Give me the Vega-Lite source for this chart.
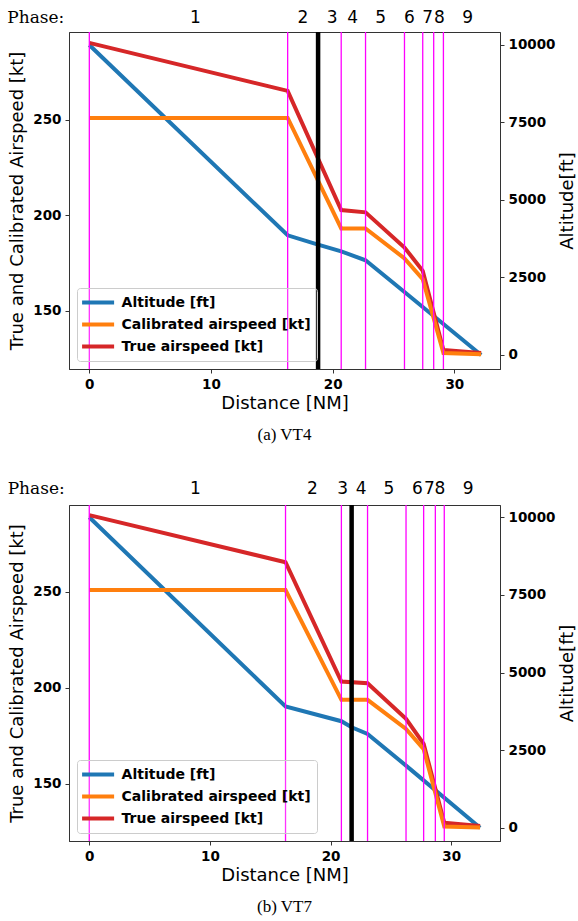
{
  "$schema": "https://vega.github.io/schema/vega-lite/v6.json",
  "padding": {"left": 6, "top": 8, "right": 0, "bottom": 5},
  "background": "white",
  "config": {
    "view": {"stroke": "#333", "strokeWidth": 1},
    "axis": {"grid": false, "labelFont": "DejaVu Sans", "labelFontWeight": "bold", "labelFontSize": 13.5, "labelColor": "#000", "titleFont": "DejaVu Sans", "titleFontWeight": "normal", "titleFontSize": 18, "titleColor": "#000", "tickColor": "#333", "domainColor": "#333", "tickSize": 4, "labelPadding": 4},
    "legend": {"orient": "bottom-left", "offset": 8, "labelFont": "DejaVu Sans", "labelFontWeight": "bold", "labelFontSize": 14, "labelColor": "#000", "labelLimit": 400, "symbolType": "M-2.5,0L2.5,0", "symbolStrokeWidth": 4, "symbolSize": 164, "symbolOffset": 6.6, "strokeColor": "#ccc", "fillColor": "rgba(255,255,255,0.2)", "padding": 6, "cornerRadius": 3, "rowPadding": 5, "labelOffset": 15},
    "title": {"font": "Liberation Serif", "fontSize": 17, "fontWeight": "normal", "color": "#000"}
  },
  "datasets": {
    "vt4_speed": [
      {"d": 0, "kt": 290.3, "series": "True airspeed [kt]"},
      {"d": 16.3, "kt": 265.2, "series": "True airspeed [kt]"},
      {"d": 20.7, "kt": 202.8, "series": "True airspeed [kt]"},
      {"d": 22.7, "kt": 201.6, "series": "True airspeed [kt]"},
      {"d": 25.9, "kt": 183.2, "series": "True airspeed [kt]"},
      {"d": 27.4, "kt": 171.0, "series": "True airspeed [kt]"},
      {"d": 29.1, "kt": 129.5, "series": "True airspeed [kt]"},
      {"d": 32.2, "kt": 128.0, "series": "True airspeed [kt]"},
      {"d": 0, "kt": 251, "series": "Calibrated airspeed [kt]"},
      {"d": 16.3, "kt": 251, "series": "Calibrated airspeed [kt]"},
      {"d": 20.7, "kt": 193.2, "series": "Calibrated airspeed [kt]"},
      {"d": 22.7, "kt": 193.2, "series": "Calibrated airspeed [kt]"},
      {"d": 25.9, "kt": 177.5, "series": "Calibrated airspeed [kt]"},
      {"d": 27.4, "kt": 166.6, "series": "Calibrated airspeed [kt]"},
      {"d": 29.1, "kt": 128.0, "series": "Calibrated airspeed [kt]"},
      {"d": 32.2, "kt": 127.3, "series": "Calibrated airspeed [kt]"}
    ],
    "vt4_alt": [
      {"d": 0, "ft": 10000, "series": "Altitude [ft]"},
      {"d": 16.3, "ft": 3861, "series": "Altitude [ft]"},
      {"d": 18.8, "ft": 3558, "series": "Altitude [ft]"},
      {"d": 20.7, "ft": 3345, "series": "Altitude [ft]"},
      {"d": 22.7, "ft": 3055, "series": "Altitude [ft]"},
      {"d": 25.9, "ft": 2032, "series": "Altitude [ft]"},
      {"d": 32.2, "ft": 0, "series": "Altitude [ft]"}
    ],
    "vt4_bounds": [
      {"d": 0, "kind": "phase"}, {"d": 16.3, "kind": "phase"}, {"d": 20.7, "kind": "phase"}, {"d": 22.7, "kind": "phase"},
      {"d": 25.9, "kind": "phase"}, {"d": 27.4, "kind": "phase"}, {"d": 28.3, "kind": "phase"}, {"d": 29.1, "kind": "phase"},
      {"d": 18.8, "kind": "now"}
    ],
    "vt4_labels": [
      {"d": 8.72, "phase": "1"}, {"d": 17.56, "phase": "2"}, {"d": 19.95, "phase": "3"}, {"d": 21.65, "phase": "4"},
      {"d": 23.95, "phase": "5"}, {"d": 26.3, "phase": "6"}, {"d": 27.8, "phase": "7"}, {"d": 28.77, "phase": "8"}, {"d": 31.1, "phase": "9"}
    ],
    "vt7_speed": [
      {"d": 0, "kt": 290.0, "series": "True airspeed [kt]"},
      {"d": 16.27, "kt": 265.5, "series": "True airspeed [kt]"},
      {"d": 20.9, "kt": 203.3, "series": "True airspeed [kt]"},
      {"d": 23.07, "kt": 202.4, "series": "True airspeed [kt]"},
      {"d": 26.26, "kt": 183.9, "series": "True airspeed [kt]"},
      {"d": 27.72, "kt": 170.8, "series": "True airspeed [kt]"},
      {"d": 29.43, "kt": 129.7, "series": "True airspeed [kt]"},
      {"d": 32.4, "kt": 128.0, "series": "True airspeed [kt]"},
      {"d": 0, "kt": 251, "series": "Calibrated airspeed [kt]"},
      {"d": 16.27, "kt": 251, "series": "Calibrated airspeed [kt]"},
      {"d": 20.9, "kt": 193.75, "series": "Calibrated airspeed [kt]"},
      {"d": 23.07, "kt": 193.75, "series": "Calibrated airspeed [kt]"},
      {"d": 26.26, "kt": 178.6, "series": "Calibrated airspeed [kt]"},
      {"d": 27.72, "kt": 168.0, "series": "Calibrated airspeed [kt]"},
      {"d": 29.43, "kt": 127.8, "series": "Calibrated airspeed [kt]"},
      {"d": 32.4, "kt": 127.3, "series": "Calibrated airspeed [kt]"}
    ],
    "vt7_alt": [
      {"d": 0, "ft": 10000, "series": "Altitude [ft]"},
      {"d": 16.27, "ft": 3905, "series": "Altitude [ft]"},
      {"d": 20.9, "ft": 3430, "series": "Altitude [ft]"},
      {"d": 21.75, "ft": 3237, "series": "Altitude [ft]"},
      {"d": 23.07, "ft": 3023, "series": "Altitude [ft]"},
      {"d": 26.26, "ft": 2000, "series": "Altitude [ft]"},
      {"d": 32.4, "ft": 0, "series": "Altitude [ft]"}
    ],
    "vt7_bounds": [
      {"d": 0, "kind": "phase"}, {"d": 16.27, "kind": "phase"}, {"d": 20.9, "kind": "phase"}, {"d": 23.07, "kind": "phase"},
      {"d": 26.26, "kind": "phase"}, {"d": 27.72, "kind": "phase"}, {"d": 28.69, "kind": "phase"}, {"d": 29.43, "kind": "phase"},
      {"d": 21.75, "kind": "now"}
    ],
    "vt7_labels": [
      {"d": 8.8, "phase": "1"}, {"d": 18.5, "phase": "2"}, {"d": 21.0, "phase": "3"}, {"d": 22.55, "phase": "4"},
      {"d": 24.85, "phase": "5"}, {"d": 27.2, "phase": "6"}, {"d": 28.2, "phase": "7"}, {"d": 29.06, "phase": "8"}, {"d": 31.4, "phase": "9"}
    ]
  },
  "spacing": 36,
  "resolve": {"legend": {"color": "independent"}},
  "vconcat": [
    {
      "width": 431, "height": 337,
      "title": {"text": "(a) VT4", "orient": "bottom", "offset": 14},
      "resolve": {"scale": {"y": "independent"}},
      "layer": [
        {
          "data": {"name": "vt4_alt"},
          "mark": {"type": "line", "strokeWidth": 4},
          "encoding": {
            "x": {"field": "d", "type": "quantitative", "scale": {"domain": [-1.67, 33.75], "nice": false, "zero": false}, "axis": {"values": [0, 10, 20, 30], "title": "Distance [NM]", "titlePadding": 4}},
            "y": {"field": "ft", "type": "quantitative", "scale": {"domain": [-452, 10419], "nice": false, "zero": false}, "axis": {"orient": "right", "values": [0, 2500, 5000, 7500, 10000], "title": "Altitude[ft]", "titleAngle": 270, "titleBaseline": "top", "titlePadding": 4, "format": "d"}},
            "color": {"field": "series", "type": "nominal", "scale": {"domain": ["Altitude [ft]", "Calibrated airspeed [kt]", "True airspeed [kt]"], "range": ["#1f77b4", "#ff7f0e", "#d62728"]}, "legend": {"title": null}}
          }
        },
        {
          "layer": [
            {
              "data": {"name": "vt4_speed"},
              "mark": {"type": "line", "strokeWidth": 4},
              "encoding": {
                "x": {"field": "d", "type": "quantitative"},
                "y": {"field": "kt", "type": "quantitative", "scale": {"domain": [119.6, 296], "nice": false, "zero": false}, "axis": {"orient": "left", "values": [150, 200, 250], "title": "True and Calibrated Airspeed [kt]", "titlePadding": 6}},
                "color": {"field": "series", "type": "nominal"}
              }
            },
            {
              "data": {"name": "vt4_bounds"},
              "transform": [{"filter": "datum.kind === 'phase'"}],
              "mark": {"type": "rule", "color": "#ff00ff", "strokeWidth": 1.3},
              "encoding": {"x": {"field": "d", "type": "quantitative"}}
            },
            {
              "data": {"name": "vt4_bounds"},
              "transform": [{"filter": "datum.kind === 'now'"}],
              "mark": {"type": "rule", "color": "#000", "strokeWidth": 4.5},
              "encoding": {"x": {"field": "d", "type": "quantitative"}}
            },
            {
              "data": {"name": "vt4_labels"},
              "mark": {"type": "text", "font": "DejaVu Sans", "fontSize": 17, "color": "#000", "baseline": "middle"},
              "encoding": {"x": {"field": "d", "type": "quantitative"}, "y": {"datum": 303.3, "type": "quantitative"}, "text": {"field": "phase"}}
            },
            {
              "data": {"values": [{"t": "Phase:"}]},
              "mark": {"type": "text", "font": "DejaVu Serif", "fontSize": 17, "color": "#000", "baseline": "middle"},
              "encoding": {"x": {"datum": -4.4, "type": "quantitative"}, "y": {"datum": 303.3, "type": "quantitative"}, "text": {"field": "t"}}
            }
          ]
        }
      ]
    },
    {
      "width": 431, "height": 336,
      "title": {"text": "(b) VT7", "orient": "bottom", "offset": 14},
      "resolve": {"scale": {"y": "independent"}},
      "layer": [
        {
          "data": {"name": "vt7_alt"},
          "mark": {"type": "line", "strokeWidth": 4},
          "encoding": {
            "x": {"field": "d", "type": "quantitative", "scale": {"domain": [-1.68, 34.05], "nice": false, "zero": false}, "axis": {"values": [0, 10, 20, 30], "title": "Distance [NM]", "titlePadding": 4}},
            "y": {"field": "ft", "type": "quantitative", "scale": {"domain": [-428, 10396], "nice": false, "zero": false}, "axis": {"orient": "right", "values": [0, 2500, 5000, 7500, 10000], "title": "Altitude[ft]", "titleAngle": 270, "titleBaseline": "top", "titlePadding": 4, "format": "d"}},
            "color": {"field": "series", "type": "nominal", "scale": {"domain": ["Altitude [ft]", "Calibrated airspeed [kt]", "True airspeed [kt]"], "range": ["#1f77b4", "#ff7f0e", "#d62728"]}, "legend": {"title": null}}
          }
        },
        {
          "layer": [
            {
              "data": {"name": "vt7_speed"},
              "mark": {"type": "line", "strokeWidth": 4},
              "encoding": {
                "x": {"field": "d", "type": "quantitative"},
                "y": {"field": "kt", "type": "quantitative", "scale": {"domain": [120.2, 295.3], "nice": false, "zero": false}, "axis": {"orient": "left", "values": [150, 200, 250], "title": "True and Calibrated Airspeed [kt]", "titlePadding": 6}},
                "color": {"field": "series", "type": "nominal"}
              }
            },
            {
              "data": {"name": "vt7_bounds"},
              "transform": [{"filter": "datum.kind === 'phase'"}],
              "mark": {"type": "rule", "color": "#ff00ff", "strokeWidth": 1.3},
              "encoding": {"x": {"field": "d", "type": "quantitative"}}
            },
            {
              "data": {"name": "vt7_bounds"},
              "transform": [{"filter": "datum.kind === 'now'"}],
              "mark": {"type": "rule", "color": "#000", "strokeWidth": 4.5},
              "encoding": {"x": {"field": "d", "type": "quantitative"}}
            },
            {
              "data": {"name": "vt7_labels"},
              "mark": {"type": "text", "font": "DejaVu Sans", "fontSize": 17, "color": "#000", "baseline": "middle"},
              "encoding": {"x": {"field": "d", "type": "quantitative"}, "y": {"datum": 303.6, "type": "quantitative"}, "text": {"field": "phase"}}
            },
            {
              "data": {"values": [{"t": "Phase:"}]},
              "mark": {"type": "text", "font": "DejaVu Serif", "fontSize": 17, "color": "#000", "baseline": "middle"},
              "encoding": {"x": {"datum": -4.4, "type": "quantitative"}, "y": {"datum": 303.6, "type": "quantitative"}, "text": {"field": "t"}}
            }
          ]
        }
      ]
    }
  ]
}
